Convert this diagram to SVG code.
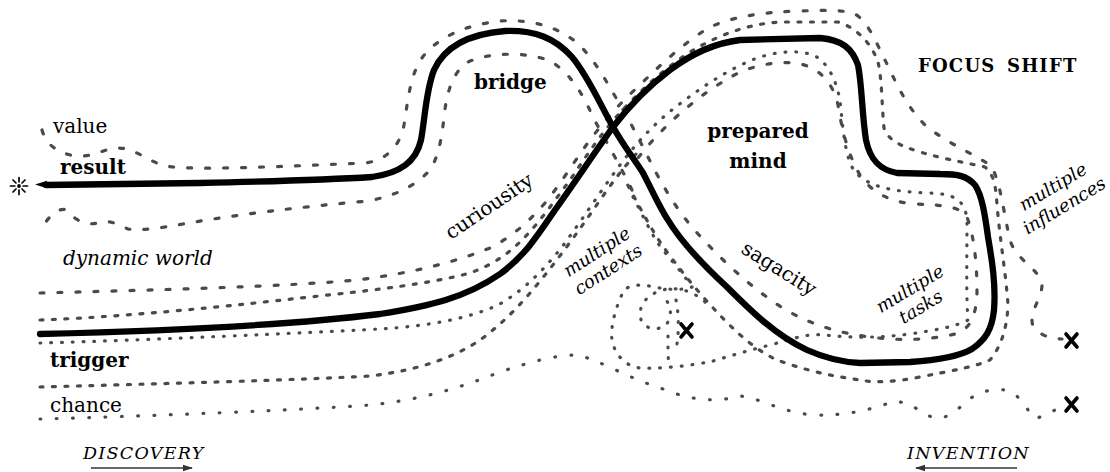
<svg xmlns="http://www.w3.org/2000/svg" width="1110" height="472" viewBox="0 0 1110 472">
<style>
.ln{fill:none;stroke:#4a4a4a;stroke-width:3.2;stroke-linecap:round;stroke-linejoin:round}
.da{stroke-dasharray:4 14}
.db{stroke-dasharray:3 9.5}
.dt{stroke-dasharray:0.8 10}
.dw{stroke-dasharray:0.8 15.5}
.main{fill:none;stroke:#000;stroke-width:6.3;stroke-linecap:round;stroke-linejoin:round}
text{font-family:"DejaVu Serif","Liberation Serif",serif;font-size:20px;fill:#000}
.b{font-weight:bold}
.i{font-style:italic}
.sm{font-size:18px}
.cap{font-size:17.5px;letter-spacing:1.3px}
.x{fill:none;stroke:#000;stroke-width:3.6;stroke-linecap:round}
.arr{fill:none;stroke:#333;stroke-width:1.5}
.ast{stroke:#000;stroke-width:1.7;stroke-linecap:round}
</style>
<defs>
<marker id="ah" markerWidth="10" markerHeight="8" refX="9" refY="4" orient="auto" markerUnits="userSpaceOnUse"><path d="M0,0.8 L10,4 L0,7.2 Z" fill="#333"/></marker>
</defs>
<rect width="1110" height="472" fill="#fff"/>

<g id="connectors">
  <!-- value / outer bridge line -->
  <path class="ln da" d="M42,130 C46,145 58,153 75,156 C92,158 105,148 118,148 C135,148 145,160 165,166 C190,170 250,168 365,163 C388,160 400,145 404,125 C408,100 410,75 422,58 C436,38 465,25 500,21 C530,19 556,26 576,42 C596,60 608,85 622,108 C632,125 642,145 652,165 C665,190 680,215 700,236 C720,258 745,282 775,303 C800,320 830,332 870,337 C900,341 930,340 955,334 C970,330 977,315 977,290 C977,260 973,230 966,215 C958,206 940,205 915,204 C890,202 872,193 860,175 C848,155 842,130 838,105 C833,82 818,66 795,63 C775,61 755,66 740,72 C715,85 695,100 675,118 C660,132 648,145 638,158"/>
  <!-- inner bridge line -->
  <path class="ln da" d="M632,190 C620,165 605,140 592,115 C582,92 568,70 548,60 C525,52 490,52 468,62 C452,72 446,95 444,118 C441,142 438,160 428,172 C415,186 395,196 368,201 C300,207 240,214 183,224 C160,228 142,231 128,229 C118,224 108,219 97,223 C86,226 74,220 67,210 C58,207 48,216 40,232"/>
  <!-- dynamic world upper / multiple influences -->
  <path class="ln da" d="M40,293 C150,290 280,287 357,280 C420,272 460,260 490,248 C515,235 530,220 545,203 C560,185 575,160 590,140 C605,120 620,103 640,85 C660,65 682,45 705,30 C725,18 760,12 800,11 C830,10 845,10 855,14 C868,22 875,40 885,60 C895,80 905,105 925,125 C945,142 970,152 990,165 C1000,178 1003,210 1010,240 C1016,260 1038,268 1042,283 C1043,298 1028,312 1033,326 C1040,336 1052,339 1062,339"/>
  <!-- dynamic world lower / outer hug -->
  <path class="ln db" d="M40,320 C150,316 280,300 347,293 C400,287 440,281 470,273 C495,264 510,252 522,240 C540,222 555,200 570,180 C585,158 600,135 618,115 C638,93 662,70 690,52 C715,37 745,24 780,22 L838,22 C858,28 872,45 878,62 C882,78 882,110 884,128 C888,140 900,146 920,152 C940,158 962,162 985,167 C995,175 996,190 997,205 C1000,240 1006,275 1008,305 C1007,330 1000,348 990,360 C975,367 950,371 920,377 C895,382 875,383 860,380 C830,376 800,369 775,359 C752,348 732,328 716,311 C697,291 677,266 662,245 C648,224 636,200 625,180"/>
  <!-- trigger dotted / inner loop / spiral -->
  <path class="ln dt" d="M40,343 C150,340 300,333 380,329 C430,326 470,318 498,305 C525,290 545,268 562,247 C582,220 600,192 620,165 C640,138 660,118 685,100 C705,85 728,70 752,60 C772,52 795,49 813,55 C828,62 836,80 840,100 C843,130 845,158 855,172 C868,186 890,192 930,193 C955,194 965,200 967,220 C967,260 966,295 968,320 C955,327 935,330 910,334 C880,338 850,338 825,335 C805,333 790,340 770,345 C750,350 730,356 713,361 C690,366 660,369 640,368 C625,366 615,355 612,340 C610,325 617,305 623,292 C630,282 645,285 660,288 C672,290 685,290 692,287 C682,272 668,257 657,242 C648,227 640,210 632,195"/>
  <!-- spiral inner -->
  <path class="ln dt" d="M705,302 C695,292 675,284 657,292 C642,298 637,312 642,322 C648,331 662,331 668,322 C673,312 670,300 660,296"/>
  <path class="ln dt" d="M676,300 C680,320 678,340 676,350 M668,336 C668,348 668,360 669,368"/>
  <!-- chance dashed -->
  <path class="ln db" d="M40,387 C150,384 300,380 370,376 C420,370 455,357 480,340 C505,322 525,300 545,275 C565,250 585,222 605,193 C618,175 628,162 640,150"/>
  <!-- chance dotted -->
  <path class="ln dw" d="M40,419 C150,416 300,410 370,405 C420,400 460,388 500,372 C530,362 555,355 577,355 C600,360 625,377 663,389 C690,400 715,403 740,396 C760,398 780,412 813,415 C845,416 870,410 892,402 C905,400 915,408 933,418 C945,420 955,412 965,403 C975,393 990,388 1005,390 C1018,393 1025,405 1033,418 C1045,418 1055,410 1062,405"/>
</g>

<g id="main-path">
  <path class="main" d="M46,185 L200,183 C290,181 340,179 372,177 C400,173 416,162 421,140 C425,118 426,90 434,70 C444,48 468,34 505,31 C535,30 555,38 572,57 C588,76 600,104 613,127 C625,148 635,160 643,173 C652,190 660,208 668,220 C680,240 700,262 727,287 C750,310 775,335 807,350 C825,358 840,362 860,363 L910,362 C940,360 960,356 972,349 C985,340 992,330 994,310 C996,285 992,260 988,237 C985,215 982,195 975,185 C967,176 958,174 940,174 L897,173 C880,170 870,160 866,140 C862,115 862,85 858,65 C852,48 842,40 820,38 L740,40 C715,43 690,55 670,70 C650,85 630,105 613,127 C595,152 575,182 555,210 C540,232 525,256 500,274 C465,298 430,306 380,314 C300,324 200,330 40,334"/>
  <polygon points="35,184.5 47,180.8 47,188.2" fill="#000"/>
</g>

<g id="result-star">
  <circle cx="19" cy="186" r="1.9" fill="#000"/>
  <path class="ast" d="M19,177.5 V181.8 M19,190.2 V194.5 M10.5,186 H14.8 M23.2,186 H27.5 M13,180 L16,183 M22,189 L25,192 M25,180 L22,183 M16,189 L13,192"/>
</g>

<g id="ends">
  <path class="x" d="M681,324 L692,337 M692,324 L681,337"/>
  <path class="x" d="M1066,334 L1077,347 M1077,334 L1066,347"/>
  <path class="x" d="M1066,398 L1077,411 M1077,398 L1066,411"/>
</g>

<g id="value"><text x="53" y="133">value</text></g>
<g id="result"><text class="b" x="60" y="174">result</text></g>
<g id="dynamic-world"><text class="i" x="63" y="265">dynamic world</text></g>
<g id="trigger"><text class="b" x="50" y="367">trigger</text></g>
<g id="chance"><text x="50" y="412">chance</text></g>
<g id="bridge"><text class="b" x="474" y="89">bridge</text></g>
<g id="prepared-mind"><text class="b" text-anchor="middle" x="758" y="138">prepared</text><text class="b" text-anchor="middle" x="758" y="168">mind</text></g>
<g id="focus-shift"><text class="b" x="918" y="72" style="font-size:18px;letter-spacing:1.2px;word-spacing:4px">FOCUS SHIFT</text></g>
<g id="curiousity"><text transform="translate(451,240) rotate(-34)">curiousity</text></g>
<g id="sagacity"><text transform="translate(740,252) rotate(32)">sagacity</text></g>
<g id="multiple-contexts"><text class="i sm" text-anchor="middle" transform="translate(600,257) rotate(-33)"><tspan x="0" y="0">multiple</tspan><tspan x="0" y="21">contexts</tspan></text></g>
<g id="multiple-tasks"><text class="i sm" text-anchor="middle" transform="translate(913,294) rotate(-31)"><tspan x="0" y="0">multiple</tspan><tspan x="0" y="21">tasks</tspan></text></g>
<g id="multiple-influences"><text class="i sm" text-anchor="middle" transform="translate(1056,192) rotate(-31)"><tspan x="0" y="0">multiple</tspan><tspan x="0" y="22">influences</tspan></text></g>
<g id="discovery"><text class="i cap" x="83" y="459">DISCOVERY</text><path class="arr" d="M91,468 L192,468" marker-end="url(#ah)"/></g>
<g id="invention"><text class="i cap" x="907" y="459">INVENTION</text><path class="arr" d="M1017,468 L916,468" marker-end="url(#ah)"/></g>
</svg>
